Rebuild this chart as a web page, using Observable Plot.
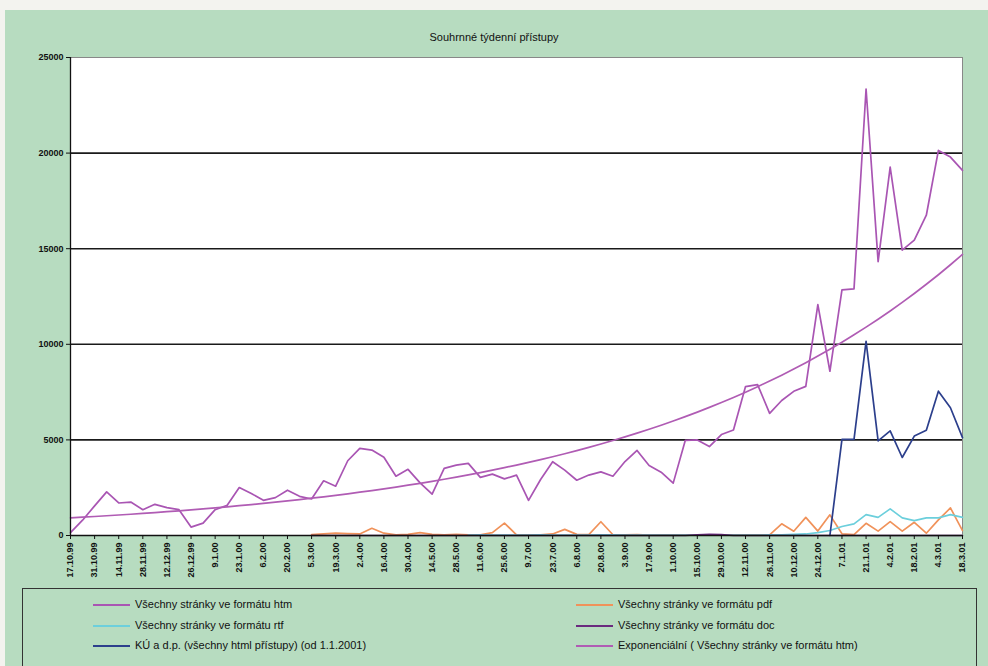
<!DOCTYPE html>
<html><head><meta charset="utf-8">
<script src="https://cdn.jsdelivr.net/npm/d3@7"></script>
<script src="https://cdn.jsdelivr.net/npm/@observablehq/plot@0.6"></script>
<style>
html,body{margin:0;padding:0;background:#f3f3ef;}
#wrap{position:relative;width:988px;height:666px;overflow:hidden;}
#panel{position:absolute;left:5px;top:10px;width:983px;height:656px;background:#b7dcc0;}
#title{position:absolute;left:0;width:988px;top:31px;text-align:center;font:11px "Liberation Sans Narrow","Liberation Sans",sans-serif;color:#111;}
#chart{position:absolute;left:0;top:45px;}
#legend{position:absolute;left:22px;top:588px;width:955px;height:100px;border:1.5px solid #333;box-sizing:border-box;}
.item{position:absolute;font:11px "Liberation Sans Narrow","Liberation Sans",sans-serif;color:#111;white-space:nowrap;line-height:14px;}
.sw{position:absolute;width:37px;height:0;border-top:2px solid;top:7px;}
.lbl{position:absolute;left:42px;top:0;}
</style></head>
<body>
<div id="wrap">
<div id="panel"></div>
<div id="title">Souhrnné týdenní přístupy</div>
<div id="chart"></div>
<div id="legend"></div>
</div>
<script>
// Tick labels (every second week)
const tickLabels = ["17.10.99","31.10.99","14.11.99","28.11.99","12.12.99","26.12.99","9.1.00","23.1.00","6.2.00","20.2.00","5.3.00","19.3.00","2.4.00","16.4.00","30.4.00","14.5.00","28.5.00","11.6.00","25.6.00","9.7.00","23.7.00","6.8.00","20.8.00","3.9.00","17.9.00","1.10.00","15.10.00","29.10.00","12.11.00","26.11.00","10.12.00","24.12.00","7.1.01","21.1.01","4.2.01","18.2.01","4.3.01","18.3.01"];

// Weekly values (75 weeks)
const htm = [150,800,1550,2280,1700,1750,1350,1630,1460,1350,440,650,1350,1580,2510,2200,1840,1980,2370,2050,1910,2860,2580,3910,4560,4470,4090,3100,3460,2750,2160,3510,3680,3770,3040,3210,2960,3160,1840,2930,3860,3420,2890,3160,3330,3100,3870,4450,3660,3310,2740,4970,5000,4650,5280,5520,7790,7890,6390,7060,7540,7800,12080,8590,12850,12900,23350,14320,19270,14930,15450,16750,20140,19790,19100];
const pdf = [null,null,null,null,null,null,null,null,null,null,null,null,null,null,null,null,null,null,null,null,50,80,120,100,80,380,120,30,60,150,60,40,60,30,40,150,650,30,20,30,80,320,60,50,720,40,30,50,20,30,40,20,30,20,20,30,30,40,30,610,225,950,230,1080,90,50,640,230,730,230,690,120,820,1440,260];
const rtf = [null,null,null,null,null,null,null,null,null,null,null,null,null,null,null,null,null,null,null,null,null,null,null,null,null,null,null,null,null,null,null,null,null,20,30,20,20,20,20,30,20,20,20,20,30,40,20,20,20,20,20,20,20,20,20,20,20,20,30,40,60,80,150,260,470,610,1090,950,1390,920,780,920,920,1090,950];
const doc = [null,null,null,null,null,null,null,null,null,null,null,null,null,null,null,null,null,null,null,null,0,0,0,0,0,0,0,0,0,0,0,0,0,0,0,0,0,0,0,0,0,0,0,0,0,0,0,0,0,0,0,0,40,60,50,0,0,0,0,0,0,0,0,0,0,0,0,0,0,0,0,0,0,0,0];
const ku = [null,null,null,null,null,null,null,null,null,null,null,null,null,null,null,null,null,null,null,null,null,null,null,null,null,null,null,null,null,null,null,null,null,null,null,null,null,null,null,null,null,null,null,null,null,null,null,null,null,null,null,null,null,null,null,null,null,null,null,null,null,null,null,0,5030,5030,10150,4950,5470,4080,5200,5500,7550,6680,5120];

const yTicks = [0,5000,10000,15000,20000,25000];
const gridValues = [5000,10000,15000,20000];

// Exponential trendline fitted to htm (least squares on ln y)
const idx = d3.range(htm.length);
const lx = idx, ly = htm.map(v => Math.log(v));
const mx = d3.mean(lx), my = d3.mean(ly);
const b = d3.sum(idx, i => (lx[i]-mx)*(ly[i]-my)) / d3.sum(idx, i => (lx[i]-mx)**2);
const a = my - b*mx;
const trend = idx.map(i => Math.exp(a + b*i));

const series = [
  {name:"Všechny stránky ve formátu htm", values:htm, color:"#a955b3"},
  {name:"Všechny stránky ve formátu pdf", values:pdf, color:"#f0925a"},
  {name:"Všechny stránky ve formátu rtf", values:rtf, color:"#6ccfdc"},
  {name:"Všechny stránky ve formátu doc", values:doc, color:"#6a2a7e"},
  {name:"KÚ a d.p. (všechny html přístupy) (od 1.1.2001)", values:ku, color:"#2c3f8c"},
  {name:"Exponenciální ( Všechny stránky ve formátu htm)", values:trend, color:"#b05cb4"}
];

const chart = Plot.plot({
  width: 988, height: 540,
  marginLeft: 70, marginRight: 26, marginTop: 12, marginBottom: 50,
  style: {background:"transparent", fontFamily:"'Liberation Sans', Arial, sans-serif", fontSize:"9px", fontWeight:"bold", color:"#111"},
  x: {domain:[0, htm.length-1]},
  y: {domain:[0,25000]},
  marks: [
    Plot.frame({fill:"white", stroke:"#888", strokeWidth:1}),
    Plot.ruleY(gridValues, {stroke:"#1a1a1a", strokeWidth:1.6}),
    ...series.map(s => Plot.line(idx, {x: i => i, y: i => s.values[i], stroke: s.color, strokeWidth: 1.7})),
    Plot.ruleX([0], {stroke:"#111", strokeWidth:1.3}),
    Plot.ruleY([0], {stroke:"#111", strokeWidth:1.3}),
    Plot.axisY({ticks: yTicks, tickFormat: d => String(d), tickSize: 4, tickPadding: 3, label: null}),
    Plot.axisX({ticks: tickLabels.map((_, j) => j*2), tickFormat: i => tickLabels[i/2], tickRotate: -90, tickSize: 4, tickPadding: 3, label: null})
  ]
});
document.getElementById("chart").appendChild(chart);

// Legend
const legend = document.getElementById("legend");
const pos = [[70,8],[553,8],[70,29],[553,29],[70,49],[553,49]];
series.forEach((s, j) => {
  const it = document.createElement("div");
  it.className = "item";
  it.style.left = pos[j][0] + "px";
  it.style.top = pos[j][1] + "px";
  it.innerHTML = `<span class="sw" style="border-color:${s.color}"></span><span class="lbl">${s.name}</span>`;
  legend.appendChild(it);
});
</script>
</body></html>
